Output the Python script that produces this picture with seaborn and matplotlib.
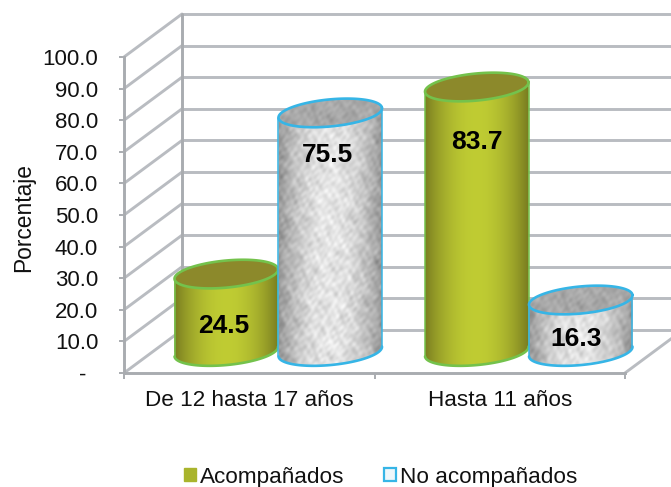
import numpy as np
import pandas as pd
import seaborn as sns
import matplotlib
matplotlib.use("Agg")
import matplotlib.pyplot as plt
from matplotlib.patches import PathPatch, Patch
from matplotlib.path import Path
from matplotlib.transforms import Affine2D

# ---- data ----
categories = ["De 12 hasta 17 años", "Hasta 11 años"]
series_names = ["Acompañados", "No acompañados"]
acompanados = [24.5, 83.7]
no_acompanados = [75.5, 16.3]
y_ticks = [0, 10, 20, 30, 40, 50, 60, 70, 80, 90, 100]
y_tick_labels = ["-  ", "10.0", "20.0", "30.0", "40.0", "50.0", "60.0", "70.0", "80.0", "90.0", "100.0"]

df = pd.DataFrame({
    "Grupo": categories * 2,
    "Serie": [series_names[0]] * 2 + [series_names[1]] * 2,
    "Porcentaje": acompanados + no_acompanados,
})

# ---- style ----
W, H = 671, 487
sns.set_theme(style="white")
plt.rcParams["font.family"] = ["Liberation Sans", "DejaVu Sans"]
GRID = "#b9bcc1"
AXIS = "#a9acb0"
GREEN_EDGE, BLUE_EDGE = "#74c24c", "#36b5e6"

fig = plt.figure(figsize=(W / 100, H / 100), dpi=100, facecolor="white")
L, R, T, B = 124, 625, 57, 373
ax = fig.add_axes([L / W, (H - B) / H, (R - L) / W, (B - T) / H])

sns.barplot(data=df, x="Grupo", y="Porcentaje", hue="Serie", order=categories,
            hue_order=series_names, palette=["#a9b42c", "#d4d4d4"], width=0.83,
            gap=0, dodge=True, legend=False, errorbar=None, ax=ax)
ax.set_xlim(-0.5, 1.5)
ax.set_ylim(0, 100)
sx = (R - L) / 2.0
sy = (B - T) / 100.0

t_mid = ax.transData + Affine2D().translate(29, 21.5)
t_back = ax.transData + Affine2D().translate(58, 43)

# ---- 3D walls ----
lw_grid = 2.1
ax.hlines(y_ticks, -0.5, 1.5, transform=t_back, color=GRID, lw=lw_grid, clip_on=False, zorder=0.5)
ddx, ddy = 58 / sx, 43 / sy
for v in y_ticks:
    ax.plot([-0.5, -0.5 + ddx], [v, v + ddy], color=GRID, lw=lw_grid, clip_on=False, zorder=0.6)
ax.plot([1.5, 1.5 + ddx], [0, ddy], color=GRID, lw=lw_grid, clip_on=False, zorder=0.6)
ax.plot([-0.5 + ddx] * 2, [0 + ddy, 100 + ddy], color=AXIS, lw=lw_grid, clip_on=False, zorder=0.7)

# ---- cylinders ----
Bb, TILT = 13.5, np.deg2rad(5.5)


def ell(cx, cy, t, a_px):
    ex, ey = a_px * np.cos(t), Bb * np.sin(t)
    X = ex * np.cos(TILT) - ey * np.sin(TILT)
    Y = ex * np.sin(TILT) + ey * np.cos(TILT)
    return cx + X / sx, cy + Y / sy


WAVES = [(0.071, 0.043, 0.3), (-0.052, 0.083, 1.7), (0.113, -0.037, 2.9), (0.029, 0.127, 4.1),
         (-0.143, -0.091, 0.9), (0.187, 0.061, 5.3), (0.097, 0.173, 3.7), (-0.211, 0.139, 2.2),
         (0.263, -0.181, 1.1), (0.157, 0.241, 4.8), (-0.307, -0.113, 0.4), (0.349, 0.223, 3.3),
         (-0.127, 0.331, 5.9), (0.419, -0.277, 2.6), (0.233, -0.397, 1.4)]


def texture(n_y, n_x, scale=1.0):
    # smooth decorative mottling built from hand-picked sine waves
    yy, xx = np.mgrid[0:n_y, 0:n_x]
    z = np.zeros((n_y, n_x))
    for fx, fy, ph in WAVES:
        z += np.sin(2.6 * scale * (fx * xx + fy * yy) + ph + np.sin(0.11 * xx - 0.07 * yy + ph))
    return z / 3.2


def body_rgb(kind, n_y, n_x):
    u = np.linspace(0, 1, n_x)
    w = (1 - np.abs(2 * u - 1) ** 2.0)[None, :, None]
    if kind == 0:
        edge, centre = np.array([0.45, 0.46, 0.12]), np.array([0.75, 0.80, 0.20])
        return np.ones((n_y, n_x, 3)) * (edge + (centre - edge) * w)
    edge, centre = np.array([0.56, 0.56, 0.56]), np.array([0.90, 0.90, 0.90])
    rgb = np.ones((n_y, n_x, 3)) * (edge + (centre - edge) * w)
    return np.clip(rgb + 0.035 * texture(n_y, n_x)[:, :, None], 0, 1)


def top_rgb(kind, n_y, n_x):
    if kind == 0:
        return np.ones((n_y, n_x, 3)) * np.array([0.55, 0.54, 0.17])
    return np.clip(0.66 + 0.025 * texture(n_y, n_x)[:, :, None], 0, 1) * np.ones((n_y, n_x, 3))


label_shift = {24.5: (-0.012, -16.4), 75.5: (-0.012, -13.3), 83.7: (0.002, -17.3), 16.3: (-0.018, -12.4)}
bars = []
for kind, container in enumerate(ax.containers):
    for rect in container:
        bars.append((kind, rect))
bars.sort(key=lambda b: (b[1].get_x(), b[0]))

for i, (kind, rect) in enumerate(bars):
    x0, w, v = rect.get_x(), rect.get_width(), rect.get_height()
    cx = x0 + w / 2
    a_px = w * sx / 2
    z = 2 + i
    edge = GREEN_EDGE if kind == 0 else BLUE_EDGE
    t1 = np.linspace(np.pi, 2 * np.pi, 60)
    t2 = np.linspace(0, np.pi, 60)
    bx, by = ell(cx, 0, t1, a_px)
    tx, ty = ell(cx, v, t2, a_px)
    body = Path(np.column_stack([np.r_[bx, tx, bx[0]], np.r_[by, ty, by[0]]]), closed=True)
    body_patch = PathPatch(body, transform=t_mid, fc="none", ec="none")
    rect.set_transform(t_mid)
    rect.set_zorder(z)
    rect.set_linewidth(0)
    rect.set_clip_path(body_patch)
    rect.set_clip_box(fig.bbox)
    n_y = max(40, int(v * 3.16 + 40))
    im = ax.imshow(body_rgb(kind, n_y, 112), extent=[x0 - 0.01, x0 + w + 0.01, -10, v + 10],
                   transform=t_mid, aspect="auto", origin="lower", interpolation="bilinear", zorder=z + 0.1)
    im.set_clip_path(body_patch)
    im.set_clip_box(fig.bbox)
    ta = np.linspace(0, 2 * np.pi, 120)
    ex, ey = ell(cx, v, ta, a_px)
    top_path = Path(np.column_stack([ex, ey]), closed=True)
    top_patch = PathPatch(top_path, transform=t_mid, fc="none", ec="none")
    im2 = ax.imshow(top_rgb(kind, 60, 112), extent=[x0 - 0.01, x0 + w + 0.01, v - 10, v + 10],
                    transform=t_mid, aspect="auto", origin="lower", interpolation="bilinear", zorder=z + 0.2)
    im2.set_clip_path(top_patch)
    im2.set_clip_box(fig.bbox)
    ax.plot(ex, ey, color=edge, lw=1.9, transform=t_mid, clip_on=False, zorder=z + 0.3)
    ax.plot(bx, by, color=edge, lw=1.9, transform=t_mid, clip_on=False, zorder=z + 0.3)
    ax.plot([bx[-1], tx[0]], [by[-1], ty[0]], color=edge, lw=1.1, transform=t_mid, clip_on=False, zorder=z + 0.3)
    ax.plot([bx[0], tx[-1]], [by[0], ty[-1]], color=edge, lw=1.1, transform=t_mid, clip_on=False, zorder=z + 0.3)
    dx_l, dy_l = label_shift[v]
    ax.text(cx + dx_l, v + dy_l, f"{v:.1f}", transform=t_mid, ha="center", va="center",
            fontsize=19, fontweight="bold", color="black", zorder=20)

ax.set_xlim(-0.5, 1.5)
ax.set_ylim(0, 100)

# ---- axes ----
for s in ("top", "right"):
    ax.spines[s].set_visible(False)
for s in ("left", "bottom"):
    ax.spines[s].set_color(AXIS)
    ax.spines[s].set_linewidth(2.1)
ax.set_yticks(y_ticks)
ax.set_yticklabels(y_tick_labels, fontsize=16, color="#111111")
ax.tick_params(axis="y", length=3.6, width=1.4, color=AXIS, pad=15, left=True)
ax.set_xticks([0, 1])
ax.set_xticklabels(categories, fontsize=16.2, color="#111111")
ax.set_xticks([-0.5, 0.5, 1.5], minor=True)
ax.tick_params(axis="x", which="major", length=0, pad=12)
ax.tick_params(axis="x", which="minor", length=4, width=1.4, color=AXIS, bottom=True)
ax.set_xlabel("")
ax.set_ylabel("Porcentaje", fontsize=16.4, color="#111111")
ax.yaxis.set_label_coords((35 - L) / (R - L), (B - 217) / (B - T))

handles = [Patch(facecolor="#a9b42c", edgecolor="#a9b42c", linewidth=1),
           Patch(facecolor="#eef7fb", edgecolor=BLUE_EDGE, linewidth=1.6)]
fig.legend(handles, series_names, loc="center", bbox_to_anchor=(380.5 / W, (H - 477) / H),
           ncol=2, frameon=False, fontsize=16.2, handlelength=0.55, handleheight=0.55,
           handletextpad=0.15, columnspacing=1.77, labelcolor="#111111", borderpad=0)

fig.savefig("out.png", dpi=100, facecolor="white")
